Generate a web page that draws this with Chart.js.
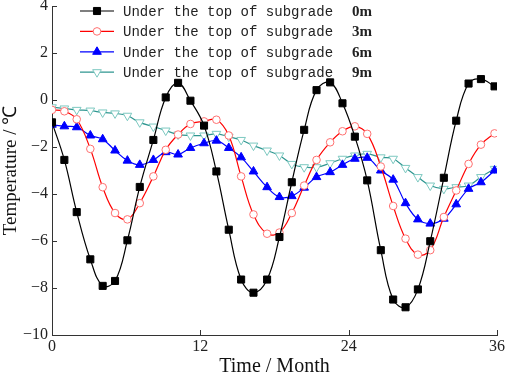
<!DOCTYPE html>
<html>
<head>
<meta charset="utf-8">
<script src="https://cdn.jsdelivr.net/npm/chart.js@4"></script>
<style>
  html, body { margin: 0; padding: 0; background: #fff; }
  #wrap { width: 505px; height: 379px; }
</style>
</head>
<body>
<div id="wrap"><canvas id="chart" width="505" height="379"></canvas></div>
<script>
// months at which the samples sit
const months = [0, 1.0, 2.0, 3.1, 4.1, 5.1, 6.1, 7.1, 8.2, 9.2, 10.2, 11.2,
    12.3, 13.3, 14.3, 15.3, 16.3, 17.4, 18.4, 19.4, 20.4, 21.4, 22.5, 23.5,
    24.5, 25.5, 26.6, 27.6, 28.6, 29.6, 30.6, 31.7, 32.7, 33.7, 34.7, 35.8];

const depth0m = [-0.95, -2.55, -4.77, -6.78, -7.91, -7.70, -5.97, -3.70, -1.70, 0.11, 0.73, -0.03,
    -1.09, -3.04, -5.52, -7.64, -8.20, -7.64, -5.83, -3.50, -1.27, 0.42, 0.75, -0.14,
    -1.56, -3.42, -6.39, -8.49, -8.82, -8.06, -6.01, -3.31, -0.88, 0.70, 0.89, 0.58];
const depth3m = [-0.42, -0.48, -0.82, -2.08, -3.71, -4.81, -5.08, -4.39, -3.25, -2.12, -1.47, -1.02,
    -0.91, -0.84, -1.51, -3.25, -4.87, -5.69, -5.64, -4.81, -3.64, -2.55, -1.80, -1.33,
    -1.12, -1.44, -2.83, -4.51, -5.90, -6.58, -6.39, -4.98, -3.85, -2.72, -1.90, -1.42];
const depth6m = [-1.05, -1.12, -1.16, -1.51, -1.67, -2.15, -2.58, -2.76, -2.55, -2.22, -2.32, -2.04,
    -1.84, -1.73, -2.04, -2.44, -3.04, -3.71, -4.13, -4.09, -3.73, -3.28, -3.07, -2.76,
    -2.50, -2.46, -3.00, -3.39, -4.39, -5.08, -5.26, -5.05, -4.44, -3.78, -3.50, -3.00];
const depth9m = [-0.31, -0.36, -0.42, -0.45, -0.53, -0.57, -0.67, -0.95, -1.13, -1.30, -1.47, -1.51,
    -1.51, -1.44, -1.56, -1.70, -1.94, -2.15, -2.36, -2.72, -2.86, -2.86, -2.69, -2.50,
    -2.36, -2.29, -2.44, -2.50, -2.89, -3.28, -3.64, -3.78, -3.71, -3.64, -3.28, -2.93];

const seriesLabels = ['0m', '3m', '6m', '9m'];
const legendPrefix = 'Under the top of subgrade';
const xTicks = [0, 12, 24, 36];

const serif = '"Liberation Serif", "Times New Roman", serif';

function toPoints(values) {
    return values.map((v, i) => ({ x: months[i], y: v }));
}

function makeSet(label, values, line, style) {
    return Object.assign({
        label: label,
        data: toPoints(values),
        borderColor: line,
        borderWidth: 1.2,
        tension: 0.4,
        fill: false
    }, style);
}

const datasets = [
    makeSet(seriesLabels[0], depth0m, '#000000', {
        pointStyle: 'rect', pointRadius: 5, pointBackgroundColor: '#000000',
        pointBorderColor: '#000000', pointBorderWidth: 1
    }),
    makeSet(seriesLabels[1], depth3m, '#ff0000', {
        pointStyle: 'circle', pointRadius: 3.8, pointBackgroundColor: '#ffffff',
        pointBorderColor: '#ff7070', pointBorderWidth: 1
    }),
    makeSet(seriesLabels[2], depth6m, '#0000ff', {
        pointStyle: 'triangle', pointRadius: 5, pointBackgroundColor: '#0000ff',
        pointBorderColor: '#0000ff', pointBorderWidth: 1
    }),
    makeSet(seriesLabels[3], depth9m, '#2f9690', {
        pointStyle: 'triangle', pointRotation: 180, pointRadius: 5, pointBackgroundColor: '#ffffff',
        pointBorderColor: '#7cc8c0', pointBorderWidth: 1
    })
];

// inward tick marks + legend drawn inside the plot area
const decorations = {
    id: 'decorations',
    afterDraw(chart) {
        const ctx = chart.ctx;
        const area = chart.chartArea;
        const xs = chart.scales.x;
        const ys = chart.scales.y;
        ctx.save();
        ctx.strokeStyle = '#333';
        ctx.lineWidth = 1;
        ctx.beginPath();
        ys.ticks.forEach(t => {
            const y = Math.round(ys.getPixelForValue(t.value)) + 0.5;
            ctx.moveTo(area.left, y);
            ctx.lineTo(area.left + 5, y);
        });
        xs.ticks.forEach(t => {
            const x = Math.round(xs.getPixelForValue(t.value)) + 0.5;
            ctx.moveTo(x, area.bottom);
            ctx.lineTo(x, area.bottom - 5);
        });
        ctx.stroke();

        // legend
        const lx = 80, lw = 34, rowH = 20.4, top = 11;
        chart.data.datasets.forEach((ds, i) => {
            const y = top + i * rowH;
            ctx.strokeStyle = ds.borderColor;
            ctx.lineWidth = 1.2;
            ctx.beginPath();
            ctx.moveTo(lx, y);
            ctx.lineTo(lx + lw, y);
            ctx.stroke();
            ctx.fillStyle = ds.pointBackgroundColor;
            ctx.strokeStyle = ds.pointBorderColor;
            ctx.lineWidth = ds.pointBorderWidth;
            Chart.helpers.drawPoint(ctx, {
                pointStyle: ds.pointStyle,
                rotation: ds.pointRotation || 0,
                radius: ds.pointRadius,
                borderWidth: ds.pointBorderWidth
            }, lx + lw / 2, y);
            ctx.fillStyle = '#222';
            ctx.textBaseline = 'middle';
            ctx.font = '14px "Liberation Mono", monospace';
            ctx.fillText(legendPrefix, 123, y + 1);
            ctx.font = 'bold 15px ' + serif;
            ctx.fillText(ds.label, 352, y + 1);
        });
        ctx.restore();
    }
};

new Chart(document.getElementById('chart'), {
    type: 'line',
    data: { datasets: datasets },
    options: {
        responsive: false,
        animation: false,
        layout: { padding: { top: 5, right: 8, left: 0, bottom: 0 } },
        plugins: {
            legend: { display: false },
            tooltip: { enabled: false }
        },
        scales: {
            x: {
                type: 'linear',
                min: 0,
                max: 36,
                afterBuildTicks: s => { s.ticks = xTicks.map(v => ({ value: v })); },
                afterFit: s => { s.height = 44; s.paddingLeft = 0; s.paddingRight = 0; },
                grid: { display: false, drawTicks: false },
                border: { display: true, color: '#333', width: 1 },
                ticks: { color: '#222', padding: 2, font: { family: serif, size: 16 } },
                title: {
                    display: true, text: 'Time / Month', color: '#111',
                    font: { family: serif, size: 20 }, padding: { top: -2, bottom: 0 }
                }
            },
            y: {
                min: -10,
                max: 4,
                ticks: {
                    stepSize: 2, color: '#222', padding: 4,
                    font: { family: serif, size: 16 },
                    callback: v => String(v).replace('-', '\u2212')
                },
                afterFit: s => { s.width = 52; s.paddingTop = 0; s.paddingBottom = 0; },
                grid: { display: false, drawTicks: false },
                border: { display: true, color: '#333', width: 1 },
                title: {
                    display: true, text: 'Temperature / \u2103', color: '#111',
                    font: { family: serif, size: 19 }, padding: { top: 0, bottom: 2 }
                }
            }
        }
    },
    plugins: [decorations]
});
</script>
</body>
</html>
